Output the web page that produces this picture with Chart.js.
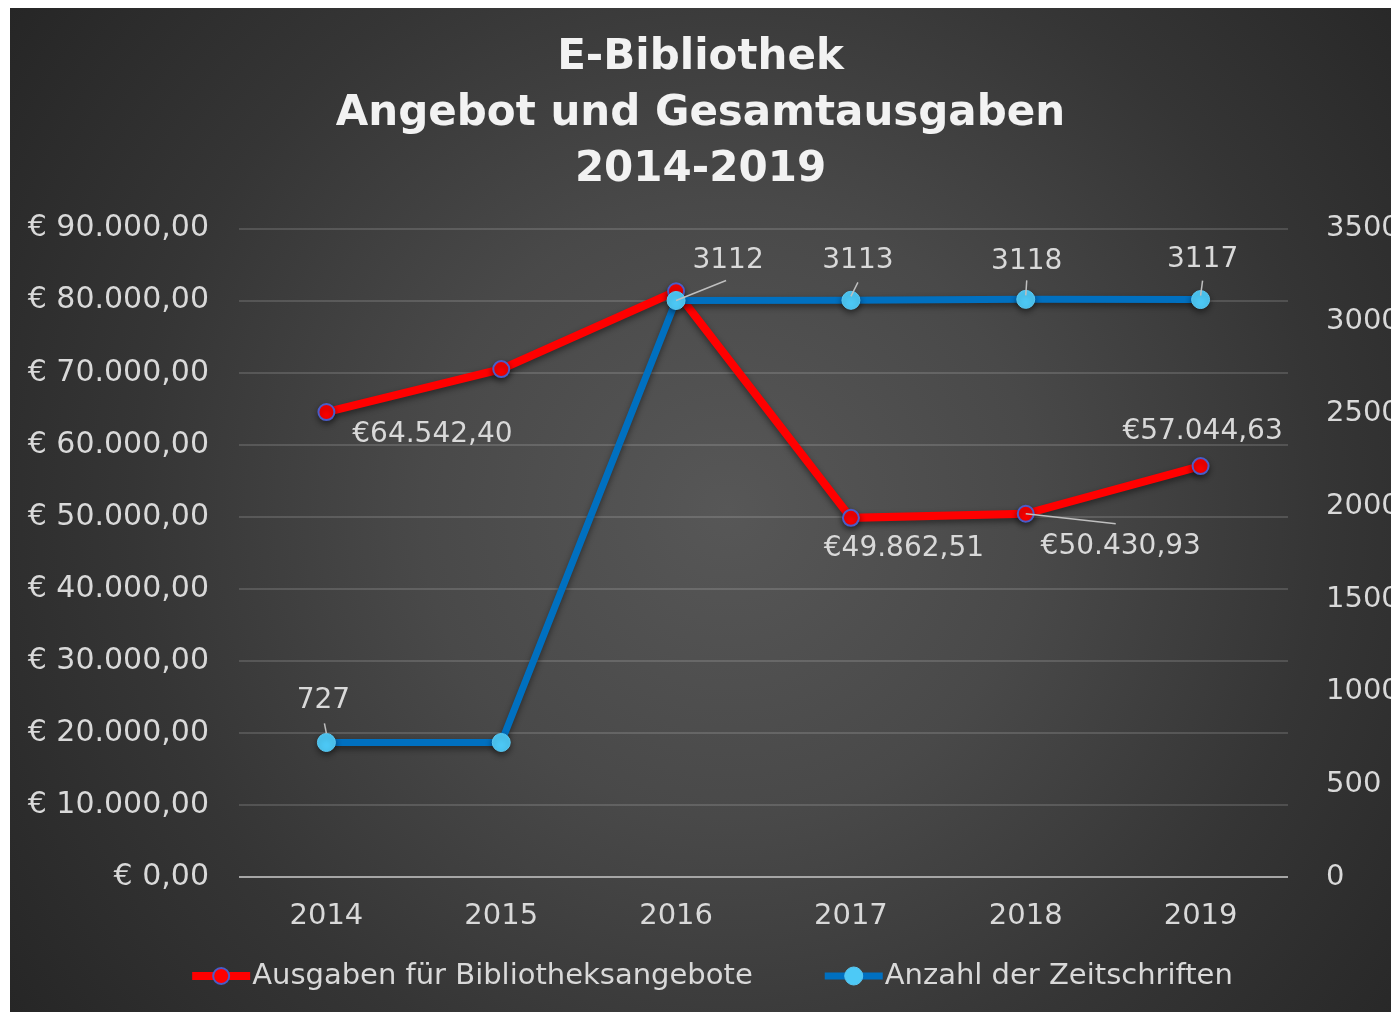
<!DOCTYPE html>
<html>
<head>
<meta charset="utf-8">
<script src="https://cdn.jsdelivr.net/npm/chart.js@4.4.0/dist/chart.umd.min.js"></script>
<style>
  html, body { margin: 0; padding: 0; background: #fff; }
  #wrap {
    position: absolute; left: 10px; top: 8px; width: 1381px; height: 1004px;
    background: radial-gradient(circle at 52% 50%, #575757 0%, #494949 35%, #353535 68%, #262626 100%);
  }
</style>
</head>
<body>
<div id="wrap"><canvas id="chart" width="1381" height="1004"></canvas></div>
<script>
const years = ['2014', '2015', '2016', '2017', '2018', '2019'];
const ausgaben = [64542.40, 70500, 81300, 49862.51, 50430.93, 57044.63];
const zeitschriften = [727, 727, 3112, 3113, 3118, 3117];
const ausgabenMitLabel = [true, false, false, true, true, true];
const zeitschriftenMitLabel = [true, false, true, true, true, true];
const euroAxis = [0, 90000, 10000];
const anzahlAxis = [0, 3500, 500];

const FONT = 'DejaVu Sans';
const TEXT = '#d9d9d9';

function deNum(v, dec) {
    const parts = v.toFixed(dec).split('.');
    parts[0] = parts[0].replace(/\B(?=(\d{3})+(?!\d))/g, '.');
    return parts.join(',');
}

// label offsets from the point: [dx, dy, leader start dx, dy, leader end dx, dy]
const labelOffsets = [
    {0: [106, 23], 3: [53, 31], 4: [95, 33, 0, 0, 90, 10], 5: [2, -34]},
    {0: [-3, -42, 0, -9, -2, -19], 2: [52, -40, 0, 0, 50, -20], 3: [7, -40, 0, -4, 7, -18],
     4: [1, -38, 0, -4, 1, -19], 5: [2, -40, 0, -4, 2, -19]}
];

const lineShadow = {
    id: 'lineShadow',
    beforeDatasetDraw(chart) {
        const ctx = chart.ctx;
        ctx.save();
        ctx.shadowColor = 'rgba(0,0,0,0.45)';
        ctx.shadowBlur = 6;
        ctx.shadowOffsetY = 3;
    },
    afterDatasetDraw(chart) {
        chart.ctx.restore();
    }
};

const valueLabels = {
    id: 'valueLabels',
    afterDatasetsDraw(chart) {
        const ctx = chart.ctx;
        const shown = [ausgabenMitLabel, zeitschriftenMitLabel];
        ctx.save();
        chart.data.datasets.forEach((ds, di) => {
            const meta = chart.getDatasetMeta(di);
            meta.data.forEach((pt, i) => {
                if (!shown[di][i]) return;
                const off = labelOffsets[di][i];
                if (off.length > 2) {
                    ctx.strokeStyle = '#bfbfbf';
                    ctx.lineWidth = 1.5;
                    ctx.beginPath();
                    ctx.moveTo(pt.x + off[2], pt.y + off[3]);
                    ctx.lineTo(pt.x + off[4], pt.y + off[5]);
                    ctx.stroke();
                }
                const v = ds.data[i];
                const txt = di === 0 ? '€' + deNum(v, 2) : String(v);
                ctx.font = '28px "' + FONT + '"';
                ctx.fillStyle = TEXT;
                ctx.textAlign = 'center';
                ctx.textBaseline = 'middle';
                ctx.fillText(txt, pt.x + off[0], pt.y + off[1]);
            });
        });
        ctx.restore();
    }
};

// legend with line + marker symbols
const lineLegend = {
    id: 'lineLegend',
    afterDraw(chart) {
        const ctx = chart.ctx;
        ctx.save();
        ctx.font = '29px "' + FONT + '"';
        const sym = 58, gapText = 2, gapItem = 72;
        const items = chart.data.datasets.map(ds => ({ds, w: ctx.measureText(ds.label).width}));
        const total = items.reduce((s, it) => s + sym + gapText + it.w, 0) + gapItem * (items.length - 1);
        let x = chart.width / 2 + 12 - total / 2;
        const y = 968;
        items.forEach(it => {
            const ds = it.ds;
            ctx.strokeStyle = ds.borderColor;
            ctx.lineWidth = ds.borderWidth;
            ctx.beginPath();
            ctx.moveTo(x, y);
            ctx.lineTo(x + sym, y);
            ctx.stroke();
            ctx.beginPath();
            ctx.arc(x + sym / 2, y, ds.pointRadius, 0, Math.PI * 2);
            ctx.fillStyle = ds.pointBackgroundColor;
            ctx.fill();
            ctx.lineWidth = ds.pointBorderWidth;
            ctx.strokeStyle = ds.pointBorderColor;
            ctx.stroke();
            ctx.fillStyle = TEXT;
            ctx.textAlign = 'left';
            ctx.textBaseline = 'middle';
            ctx.fillText(ds.label, x + sym + gapText, y);
            x += sym + gapText + it.w + gapItem;
        });
        ctx.restore();
    }
};

const ctx = document.getElementById('chart').getContext('2d');
new Chart(ctx, {
    type: 'line',
    data: {
        labels: years,
        datasets: [{
            label: 'Ausgaben für Bibliotheksangebote',
            data: ausgaben,
            yAxisID: 'yEuro',
            borderColor: '#ff0000',
            borderWidth: 8,
            pointRadius: 8,
            pointBackgroundColor: '#ff0000',
            pointBorderColor: '#4a5cc8',
            pointBorderWidth: 2,
            tension: 0,
            order: 1,
        }, {
            label: 'Anzahl der Zeitschriften',
            data: zeitschriften,
            yAxisID: 'yAnzahl',
            borderColor: '#0070c0',
            borderWidth: 7,
            pointRadius: 9,
            pointBackgroundColor: '#4dc9f6',
            pointBorderColor: '#5ac8f2',
            pointBorderWidth: 1,
            tension: 0,
            order: 0,
        }]
    },
    options: {
        responsive: false,
        animation: false,
        layout: { padding: { left: 0, right: 0, top: 0, bottom: 64 } },
        plugins: {
            legend: { display: false },
            tooltip: { enabled: false },
            title: {
                display: true,
                text: ['E-Bibliothek', 'Angebot und Gesamtausgaben', '2014-2019'],
                color: '#f2f2f2',
                font: { family: FONT, size: 42, weight: 'bold', lineHeight: 1.33 },
                padding: { top: 22, bottom: 31 }
            }
        },
        scales: {
            x: {
                offset: true,
                grid: { display: false },
                border: { display: false },
                ticks: { color: TEXT, font: { family: FONT, size: 29 }, padding: 14 }
            },
            yEuro: {
                position: 'left',
                min: euroAxis[0], max: euroAxis[1],
                afterFit(scale) { scale.width = 229; },
                grid: {
                    color: c => c.tick.value === 0 ? '#a6a6a6' : 'rgba(255,255,255,0.14)',
                    lineWidth: 2,
                    drawTicks: false
                },
                border: { display: false },
                ticks: {
                    stepSize: euroAxis[2],
                    color: TEXT,
                    font: { family: FONT, size: 30 },
                    padding: 30,
                    callback: v => '€ ' + deNum(v, 2)
                }
            },
            yAnzahl: {
                position: 'right',
                min: anzahlAxis[0], max: anzahlAxis[1],
                afterFit(scale) { scale.width = 103; },
                grid: { display: false },
                border: { display: false },
                ticks: {
                    stepSize: anzahlAxis[2],
                    color: TEXT,
                    font: { family: FONT, size: 29 },
                    padding: 30,
                    callback: v => String(v)
                }
            }
        }
    },
    plugins: [lineShadow, valueLabels, lineLegend]
});
</script>
</body>
</html>
